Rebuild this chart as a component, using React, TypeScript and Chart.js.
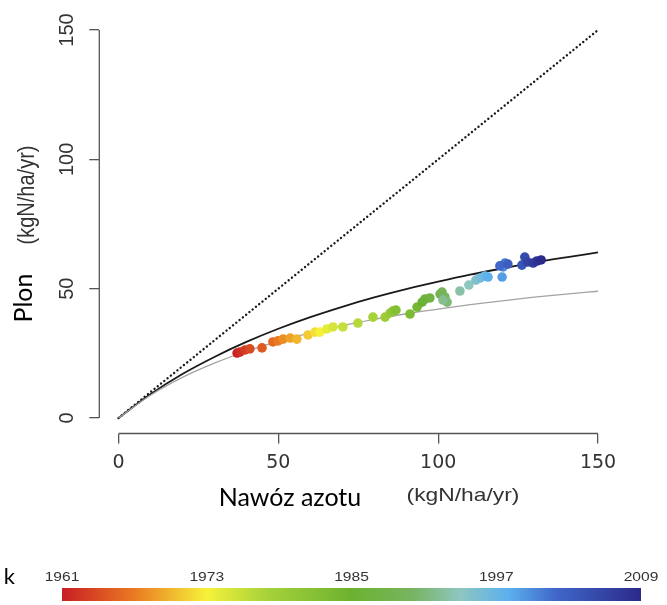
import React, { useEffect, useRef } from 'react';
import { Chart, registerables } from 'chart.js';

Chart.register(...registerables);

// ---- data ----
const YEARS = [
  1961, 1962, 1963, 1964, 1965, 1966, 1967, 1968, 1969, 1970,
  1971, 1972, 1973, 1974, 1975, 1976, 1977, 1978, 1979, 1980,
  1981, 1982, 1983, 1984, 1985, 1986, 1987, 1988, 1989, 1990,
  1991, 1992, 1993, 1994, 1995, 1996, 1997, 1998, 1999, 2000,
  2001, 2002, 2003, 2004, 2005, 2006, 2007, 2008, 2009,
];
const FERTILIZER = [
  37.1, 38.0, 39.6, 41.1, 44.9, 48.3, 49.9, 51.5, 53.7, 55.8,
  59.3, 61.5, 63.0, 65.2, 67.1, 70.2, 74.9, 79.6, 83.4, 85.0,
  85.9, 86.8, 91.2, 93.4, 95.0, 95.9, 97.4, 100.6, 101.2, 102.1,
  102.8, 101.5, 106.8, 109.6, 111.8, 113.1, 114.6, 115.6, 120.0, 120.3,
  120.9, 119.3, 121.8, 126.2, 127.1, 128.0, 129.7, 130.9, 132.2,
];
const YIELD = [
  25.1, 25.5, 26.3, 26.7, 27.1, 29.4, 29.8, 30.5, 30.9, 30.5,
  32.1, 33.2, 33.2, 34.4, 35.2, 35.2, 36.7, 39.0, 39.0, 40.6,
  41.4, 41.7, 40.2, 42.9, 44.8, 46.0, 46.4, 47.9, 48.7, 46.8,
  44.8, 45.6, 49.1, 51.4, 53.3, 54.1, 54.9, 54.5, 54.5, 58.4,
  59.9, 58.8, 59.5, 59.1, 62.2, 60.3, 59.9, 60.7, 61.1,
];
const CURVE_X = [0, 10, 20, 30, 40, 50, 60, 70, 80, 90, 100, 110, 120, 130, 140, 150];
const CURVE_HIGH = [0, 9.2, 17.0, 23.6, 29.4, 34.5, 39.0, 43.0, 46.6, 49.8, 52.7, 55.4, 57.8, 60.1, 62.1, 64.0];
const CURVE_LOW = [0, 8.8, 15.7, 21.2, 25.8, 29.6, 32.9, 35.7, 38.1, 40.3, 42.1, 43.8, 45.3, 46.7, 47.9, 49.0];
const ONE_TO_ONE_X = [0, 150];
const ONE_TO_ONE_Y = [0, 150];
const AXIS_TICKS = [0, 50, 100, 150];
const BAR_YEARS = [1961, 1973, 1985, 1997, 2009];
const STOP_YEARS = [1961, 1967, 1973, 1978, 1985, 1990, 1994, 1998, 2002, 2009];
const STOP_COLORS = [
  '#c81e24', '#ea7a22', '#f6f23a', '#a6d23a', '#6cb230',
  '#78b460', '#8ec6c0', '#5cb0ee', '#3f66c8', '#2b2a8a',
];

// ---- helpers ----
function hexToRgb(h: string) {
  const n = parseInt(h.slice(1), 16);
  return [(n >> 16) & 255, (n >> 8) & 255, n & 255];
}
function colorForYear(yr: number) {
  let i = 0;
  while (i < STOP_YEARS.length - 2 && yr > STOP_YEARS[i + 1]) i++;
  const t = Math.min(1, Math.max(0, (yr - STOP_YEARS[i]) / (STOP_YEARS[i + 1] - STOP_YEARS[i])));
  const a = hexToRgb(STOP_COLORS[i]);
  const b = hexToRgb(STOP_COLORS[i + 1]);
  const c = a.map((v, k) => Math.round(v + (b[k] - v) * t));
  return `rgb(${c[0]},${c[1]},${c[2]})`;
}

function drawText(
  ctx: CanvasRenderingContext2D, text: string, x: number, y: number, font: string,
  color: string, rot = 0, sx = 1, align: CanvasTextAlign = 'center',
) {
  ctx.save();
  ctx.translate(x, y);
  ctx.scale(sx, 1);
  ctx.rotate(rot);
  ctx.font = font;
  ctx.fillStyle = color;
  ctx.textAlign = align;
  ctx.textBaseline = 'middle';
  ctx.fillText(text, 0, 0);
  ctx.restore();
}

const BAR_LEFT = 62;
const BAR_RIGHT = 641;
const BAR_TOP = 588;
const BAR_H = 13;

const decorPlugin = {
  id: 'decor',
  afterDraw(chart: any) {
    const { ctx, chartArea, scales } = chart;
    const xs = scales.x;
    const ys = scales.y;
    ctx.save();
    // R-style axis lines spanning first..last tick
    ctx.strokeStyle = '#555';
    ctx.lineWidth = 1.3;
    ctx.beginPath();
    ctx.moveTo(chartArea.left, ys.getPixelForValue(AXIS_TICKS[0]));
    ctx.lineTo(chartArea.left, ys.getPixelForValue(AXIS_TICKS[AXIS_TICKS.length - 1]));
    ctx.moveTo(xs.getPixelForValue(AXIS_TICKS[0]), chartArea.bottom);
    ctx.lineTo(xs.getPixelForValue(AXIS_TICKS[AXIS_TICKS.length - 1]), chartArea.bottom);
    ctx.stroke();
    ctx.restore();

    // axis titles
    drawText(ctx, 'Plon', 24, 298, '25px Lato', '#000', -Math.PI / 2);
    drawText(ctx, '(kgN/ha/yr)', 27, 195, '20px "Liberation Sans"', '#333', -Math.PI / 2, 1.2);
    drawText(ctx, 'Nawóz azotu', 290, 498, '25px Lato', '#000');
    drawText(ctx, '(kgN/ha/yr)', 463, 496, '19px "Liberation Sans"', '#333', 0, 1.2);

    // colour bar
    const g = ctx.createLinearGradient(BAR_LEFT, 0, BAR_RIGHT, 0);
    const span = STOP_YEARS[STOP_YEARS.length - 1] - STOP_YEARS[0];
    STOP_YEARS.forEach((yr, i) => g.addColorStop((yr - STOP_YEARS[0]) / span, STOP_COLORS[i]));
    ctx.save();
    ctx.fillStyle = g;
    ctx.fillRect(BAR_LEFT, BAR_TOP, BAR_RIGHT - BAR_LEFT, BAR_H);
    ctx.restore();
    BAR_YEARS.forEach((yr) => {
      const px = BAR_LEFT + ((yr - BAR_YEARS[0]) / (BAR_YEARS[BAR_YEARS.length - 1] - BAR_YEARS[0])) * (BAR_RIGHT - BAR_LEFT);
      drawText(ctx, String(yr), px, 577, '13px "Liberation Sans"', '#333', 0, 1.2);
    });
    // legend title, cut off at the left edge as in the reference (only "k" visible)
    ctx.save();
    ctx.beginPath();
    ctx.rect(4, 560, 30, 35);
    ctx.clip();
    drawText(ctx, 'Rok', 15, 577, '22px Lato', '#000', 0, 1, 'right');
    ctx.restore();
  },
};

export default function App() {
  const ref = useRef<HTMLCanvasElement | null>(null);
  useEffect(() => {
    if (!ref.current) return;
    const tickFilter = (s: any) => {
      s.ticks = AXIS_TICKS.map((v) => ({ value: v }));
    };
    const chart = new Chart(ref.current, {
      type: 'scatter',
      data: {
        datasets: [
          {
            label: 'Plony',
            data: YEARS.map((_, i) => ({ x: FERTILIZER[i], y: YIELD[i] })),
            backgroundColor: YEARS.map((yr) => colorForYear(yr)),
            borderWidth: 0,
            pointRadius: 4.8,
            order: 0,
          },
          {
            label: '1:1',
            data: ONE_TO_ONE_X.map((v, i) => ({ x: v, y: ONE_TO_ONE_Y[i] })),
            showLine: true,
            borderColor: '#1a1a1a',
            borderWidth: 2.4,
            borderDash: [0.01, 4.2],
            borderCapStyle: 'round',
            pointRadius: 0,
            order: 3,
          },
          {
            label: 'Ymax wysokie',
            data: CURVE_X.map((v, i) => ({ x: v, y: CURVE_HIGH[i] })),
            showLine: true,
            borderColor: '#1a1a1a',
            borderWidth: 1.8,
            cubicInterpolationMode: 'monotone',
            pointRadius: 0,
            order: 2,
          },
          {
            label: 'Ymax niskie',
            data: CURVE_X.map((v, i) => ({ x: v, y: CURVE_LOW[i] })),
            showLine: true,
            borderColor: '#a3a3a3',
            borderWidth: 1.3,
            cubicInterpolationMode: 'monotone',
            pointRadius: 0,
            order: 1,
          },
        ],
      },
      options: {
        responsive: false,
        maintainAspectRatio: false,
        animation: false,
        layout: { padding: { left: 0, right: 49.8, top: 14.5, bottom: 0 } },
        plugins: { legend: { display: false }, tooltip: { enabled: false } },
        scales: {
          x: {
            type: 'linear',
            min: -6,
            max: 156,
            afterBuildTicks: tickFilter,
            afterFit: (s: any) => {
              s.height = 171.5;
              s.paddingLeft = 0;
              s.paddingRight = 0;
            },
            border: { display: false },
            grid: { drawOnChartArea: false, drawTicks: true, tickLength: 10, color: '#555', lineWidth: 1.3 },
            ticks: {
              autoSkip: false,
              maxRotation: 0,
              padding: 8,
              color: '#333',
              font: { family: 'DejaVu Sans', size: 19 },
            },
          },
          y: {
            type: 'linear',
            min: -6,
            max: 156,
            afterBuildTicks: tickFilter,
            afterFit: (s: any) => {
              s.width = 99.3;
              s.paddingTop = 0;
              s.paddingBottom = 0;
            },
            border: { display: false },
            grid: { drawOnChartArea: false, drawTicks: true, tickLength: 10, color: '#555', lineWidth: 1.3 },
            ticks: {
              autoSkip: false,
              minRotation: 90,
              maxRotation: 90,
              crossAlign: 'center',
              padding: 5,
              color: '#333',
              font: { family: 'Liberation Sans', size: 20 },
            },
          },
        },
      },
      plugins: [decorPlugin],
    } as any);
    return () => chart.destroy();
  }, []);

  return (
    <div style={{ position: 'fixed', left: 0, top: 0, width: 667, height: 605, background: '#fff' }}>
      <canvas ref={ref} width={667} height={605} style={{ display: 'block' }} />
    </div>
  );
}
